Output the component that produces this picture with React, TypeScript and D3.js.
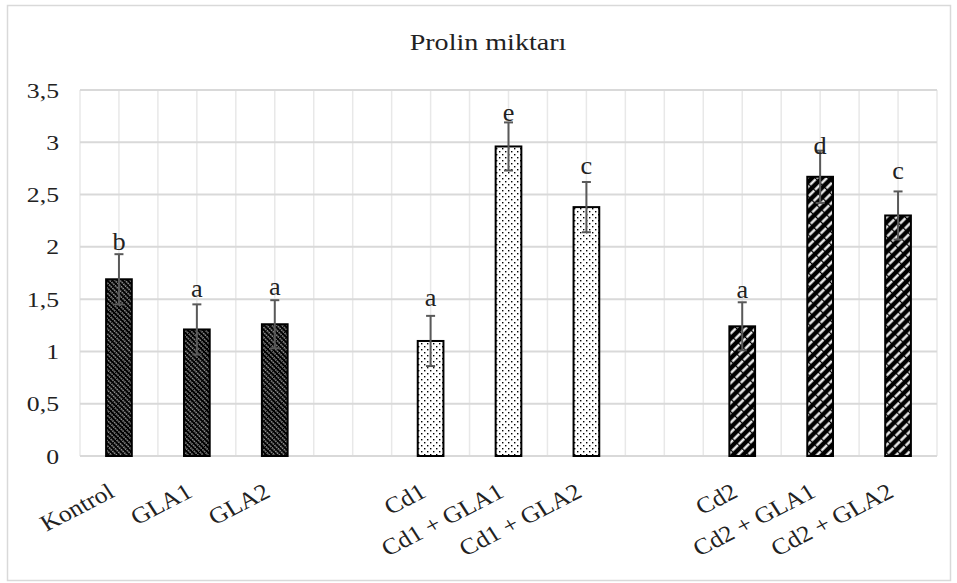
import React from "react";
import * as d3 from "d3";

// chart data
const categories = ["Kontrol", "GLA1", "GLA2", "", "Cd1", "Cd1 + GLA1", "Cd1 + GLA2", "", "Cd2", "Cd2 + GLA1", "Cd2 + GLA2"];
const prolin = [1.69, 1.21, 1.26, null, 1.1, 2.96, 2.38, null, 1.24, 2.67, 2.3];
const errors = [0.24, 0.24, 0.23, null, 0.24, 0.23, 0.24, null, 0.23, 0.25, 0.23];
const letters = ["b", "a", "a", "", "a", "e", "c", "", "a", "d", "c"];
const letterPos = [1.97, 1.52, 1.54, null, 1.43, 3.2, 2.7, null, 1.51, 2.89, 2.65];
const groupOf = [0, 0, 0, -1, 1, 1, 1, -1, 2, 2, 2];
const yTicks = [0, 0.5, 1, 1.5, 2, 2.5, 3, 3.5];
const yTickLabels = ["0", "0,5", "1", "1,5", "2", "2,5", "3", "3,5"];

const W = 957;
const H = 583;
const plot = { left: 80, right: 937, top: 90, bottom: 456 };
const SX = 1.17; // text looks horizontally stretched in the reference
const FONT = "'Liberation Serif', 'Times New Roman', serif";
const patterns = ["pat-hatch", "pat-dots", "pat-stripe"];

export default function App() {
  const x = d3
    .scaleBand<string>()
    .domain(categories.map((_, i) => String(i)))
    .range([plot.left, plot.right])
    .padding(0);
  const y = d3.scaleLinear().domain([0, 3.5]).range([plot.bottom, plot.top]);

  const bw = x.bandwidth();
  const barW = bw * 0.33;
  const vLines = d3.range(categories.length * 2 + 1).map((k) => plot.left + (k * bw) / 2);

  return (
    <svg
      width={W}
      height={H}
      style={{ position: "absolute", left: 0, top: 0, background: "#fff" }}
      fontFamily={FONT}
    >
      <defs>
        <pattern id="pat-hatch" patternUnits="userSpaceOnUse" width={3.6} height={4.8} patternTransform="rotate(-45)">
          <rect width={3.6} height={4.8} fill="#000" />
          <line x1={1.8} y1={0} x2={1.8} y2={4.8} stroke="#fff" strokeWidth={1} strokeDasharray="1.4 1" />
        </pattern>
        <pattern id="pat-dots" patternUnits="userSpaceOnUse" width={6} height={6}>
          <rect width={6} height={6} fill="#fff" />
          <rect x={1} y={1} width={1.4} height={1.4} fill="#000" />
          <rect x={4} y={4} width={1.4} height={1.4} fill="#000" />
        </pattern>
        <pattern id="pat-stripe" patternUnits="userSpaceOnUse" width={7} height={9} patternTransform="rotate(45)">
          <rect width={7} height={9} fill="#000" />
          <line x1={3.5} y1={0} x2={3.5} y2={9} stroke="#fff" strokeWidth={2.3} strokeDasharray="7.8 1.2" />
        </pattern>
      </defs>

      {/* chart border */}
      <rect x={7.5} y={5.5} width={943} height={575} fill="#fff" stroke="#d9d9d9" strokeWidth={1.5} />

      {/* title */}
      <g transform={`translate(488,50) scale(${SX},1)`}>
        <text textAnchor="middle" fontSize={24} fill="#222">
          Prolin miktarı
        </text>
      </g>

      {/* gridlines */}
      {vLines.map((vx, i) => (
        <line key={"v" + i} x1={vx} x2={vx} y1={plot.top} y2={plot.bottom} stroke="#e8e8e8" strokeWidth={1.5} />
      ))}
      {yTicks.map((t) => (
        <line key={"h" + t} x1={plot.left} x2={plot.right} y1={y(t)} y2={y(t)} stroke="#d9d9d9" strokeWidth={2} />
      ))}

      {/* y tick labels */}
      {yTicks.map((t, i) => (
        <g key={"yl" + t} transform={`translate(59,${y(t) + 7.5}) scale(${SX},1)`}>
          <text textAnchor="end" fontSize={22} fill="#222">
            {yTickLabels[i]}
          </text>
        </g>
      ))}

      {/* bars */}
      {categories.map((c, i) => {
        const v = prolin[i];
        if (v == null) return null;
        const cx = (x(String(i)) as number) + bw / 2;
        return (
          <rect
            key={"b" + i}
            x={cx - barW / 2}
            y={y(v)}
            width={barW}
            height={y(0) - y(v)}
            fill={`url(#${patterns[groupOf[i]]})`}
            stroke="#000"
            strokeWidth={2}
          />
        );
      })}

      {/* error bars */}
      {categories.map((c, i) => {
        const v = prolin[i];
        const e = errors[i];
        if (v == null || e == null) return null;
        const cx = (x(String(i)) as number) + bw / 2;
        const cap = 4.5;
        return (
          <g key={"e" + i} stroke="#595959" strokeWidth={2}>
            <line x1={cx} x2={cx} y1={y(v + e)} y2={y(v - e)} />
            <line x1={cx - cap} x2={cx + cap} y1={y(v + e)} y2={y(v + e)} />
            <line x1={cx - cap} x2={cx + cap} y1={y(v - e)} y2={y(v - e)} />
          </g>
        );
      })}

      {/* significance letters */}
      {categories.map((c, i) => {
        const p = letterPos[i];
        if (p == null) return null;
        const cx = (x(String(i)) as number) + bw / 2;
        return (
          <g key={"l" + i} transform={`translate(${cx},${y(p)}) scale(1.05,1)`}>
            <text textAnchor="middle" fontSize={25} fill="#222">
              {letters[i]}
            </text>
          </g>
        );
      })}

      {/* category labels */}
      {categories.map((c, i) => {
        if (!c) return null;
        const cx = (x(String(i)) as number) + bw / 2;
        return (
          <g key={"c" + i} transform={`translate(${cx - 3},496) scale(1.12,1) rotate(-30)`}>
            <text textAnchor="end" fontSize={23} fill="#222">
              {c}
            </text>
          </g>
        );
      })}
    </svg>
  );
}
